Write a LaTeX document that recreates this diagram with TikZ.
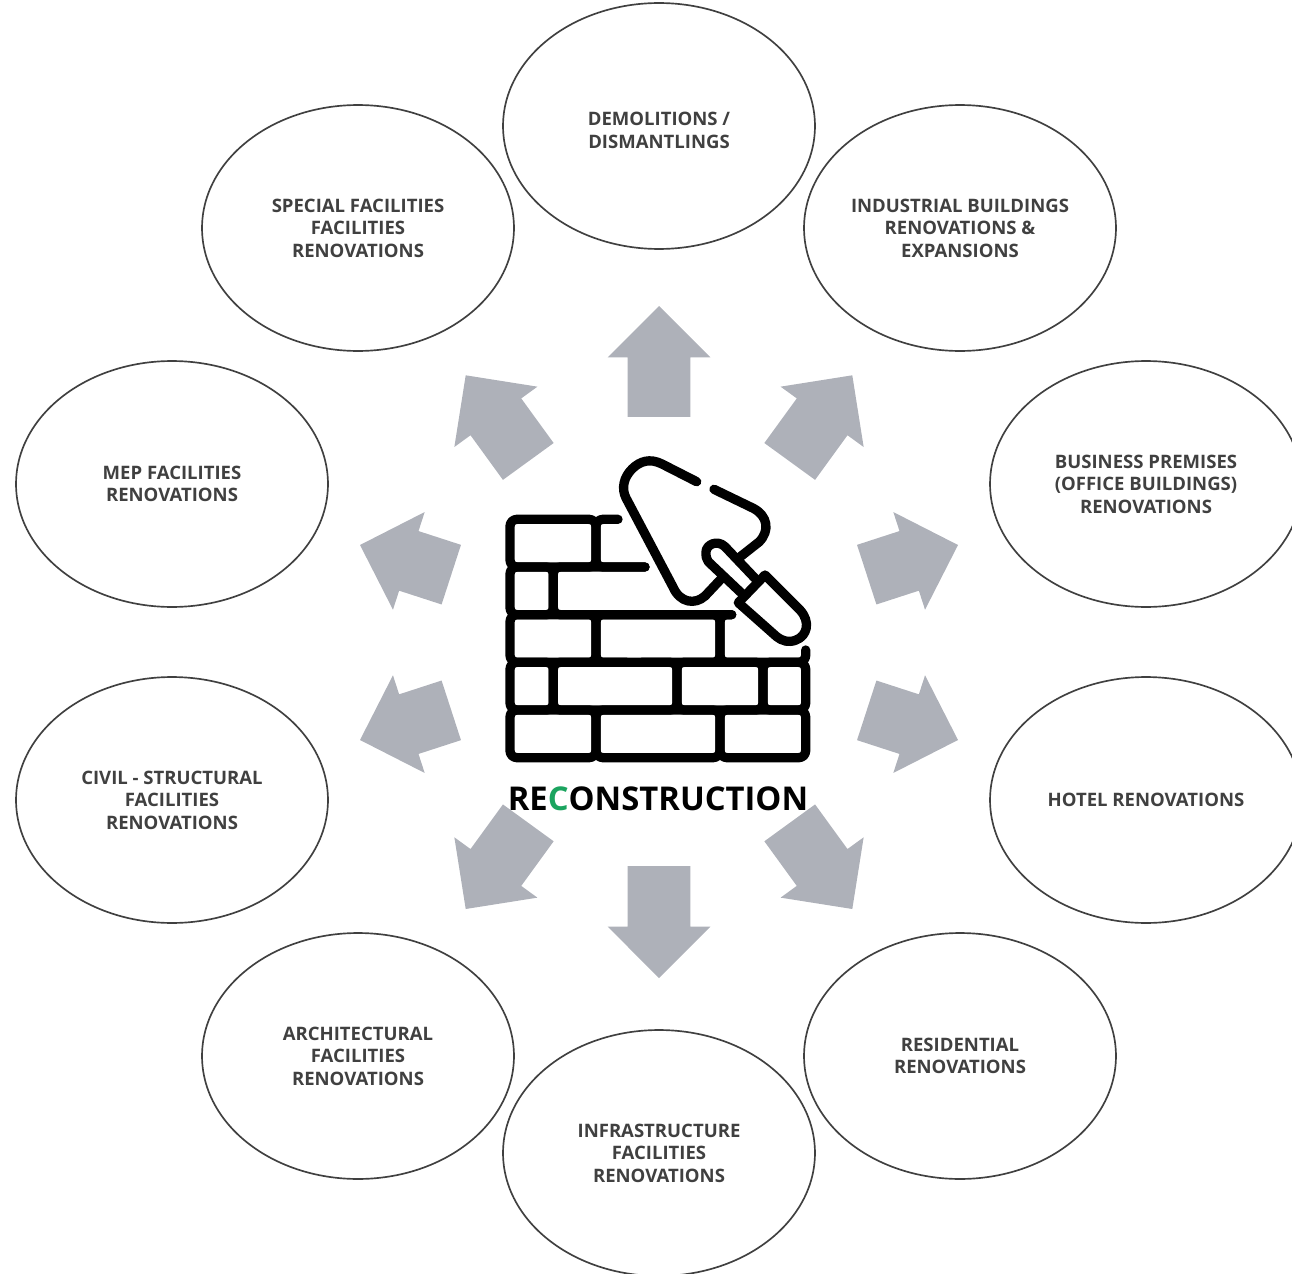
\documentclass[tikz,border=0pt]{standalone}
\usepackage{fontspec}
\setmainfont{Open Sans}
\usetikzlibrary{shapes.geometric,shapes.arrows}
\definecolor{bubbleink}{HTML}{404040}
\definecolor{arrowgray}{HTML}{AEB1B9}
\definecolor{recgreen}{HTML}{1BA45F}
\tikzset{
bubble/.style={ellipse,draw=bubbleink,line width=0.95pt,minimum width=6.24cm,minimum height=4.92cm,inner sep=0pt,outer sep=0pt},
bubbletext/.style={font=\fontsize{10.55}{12.8}\selectfont\bfseries,text=bubbleink,align=center,inner sep=0pt},
blockarrow/.style={single arrow,fill=arrowgray,minimum width=2.04cm,single arrow head extend=0.4cm,inner xsep=0pt,inner ysep=0.62cm,outer sep=0pt},
brick/.style={draw=black,line width=5.3pt,line cap=round,line join=round,rounded corners=4pt},
}

\begin{document}
\begin{tikzpicture}[x=0.02cm,y=-0.02cm]
\useasboundingbox (0,0) rectangle (1292,1274);

\foreach \nm/\x/\y/\ang/\len in {n/659/306/90/2.22,ne/852.3/375.3/54/2.13,e/958/545/18/1.92,se/958/740/-18/1.92,sse/852.3/909/-54/2.13,s/659/978/-90/2.24,ssw/465.7/909/-126/2.13,w/360/740/-162/1.92,nw/360/545/162/1.92,nnw/465.7/375.3/126/2.13}
  \node[blockarrow,rotate=\ang,anchor=tip,minimum height=\len cm] (arrow\nm) at (\x,\y) {};

\node[bubble] (demolitions) at (659,126) {};
\node[bubbletext] (demolitionstext) at (659,130.5) {DEMOLITIONS /\\DISMANTLINGS};
\node[bubble,bubbletext] (special) at (358,228) {SPECIAL FACILITIES\\FACILITIES\\RENOVATIONS};
\node[bubble,bubbletext] (industrial) at (960,228) {INDUSTRIAL BUILDINGS\\RENOVATIONS \&\\EXPANSIONS};
\node[bubble,bubbletext] (mep) at (172,484) {MEP FACILITIES\\RENOVATIONS};
\node[bubble,bubbletext] (business) at (1146,484) {BUSINESS PREMISES\\(OFFICE BUILDINGS)\\RENOVATIONS};
\node[bubble,bubbletext] (civil) at (172,800) {CIVIL - STRUCTURAL\\FACILITIES\\RENOVATIONS};
\node[bubble,bubbletext] (hotel) at (1146,800) {HOTEL RENOVATIONS};
\node[bubble,bubbletext] (architectural) at (358,1056) {ARCHITECTURAL\\FACILITIES\\RENOVATIONS};
\node[bubble,bubbletext] (residential) at (960,1056) {RESIDENTIAL\\RENOVATIONS};
\node[bubble,bubbletext] (infrastructure) at (659,1153) {INFRASTRUCTURE\\FACILITIES\\RENOVATIONS};

% wall
\foreach \xa/\ya/\xb/\yb in {510/519.3/596/567,510/567/553.3/614.7,510/614.7/596/662.3,510/662.3/553.3/710,553.3/662.3/677/710,677/662.3/763/710,763/662.3/805.7/710,510/710/596/757.7,596/710/720/757.7,720/710/805.7/757.7}
  \draw[brick] (\xa,\ya) rectangle (\xb,\yb);
\draw[brick] (618,519.3) -- (596,519.3) -- (596,567) -- (645,567);
\draw[brick] (645,567) -- (553.3,567) -- (553.3,614.7) -- (731.7,614.7);
\draw[brick] (626.7,662.3) -- (596,662.3) -- (596,614.7) -- (720,614.7) -- (720,662.3) -- (641.7,662.3);
\draw[brick] (731.7,614.7) -- (720,614.7) -- (720,662.3) -- (805.7,662.3) -- (805.7,650);

% trowel
\draw[brick,rounded corners=0pt] (696.7,481.7) -- (662,464) .. controls (650,458) and (640,461) .. (632,469) .. controls (624,477) and (621,488) .. (626,498) -- (673,587) .. controls (680,603) and (695,605) .. (705,596) -- (721.7,578.3);
\draw[brick,rounded corners=0pt] (714,489.3) -- (753.3,508.3) .. controls (768,516) and (770,531) .. (759,542) -- (738.3,558.3);
\draw[brick,rounded corners=0pt] (755,578.3) -- (725,546.7) .. controls (717,539) and (706,545) .. (706,552) .. controls (706,556) and (706,559) .. (708.3,561.7) -- (741.7,593.3);
\draw[brick,rounded corners=0pt] (738.3,602.7) -- (765,575) -- (800,610) .. controls (811,622) and (807,636) .. (796,640) .. controls (789,643) and (782,641) .. (776.7,636.7) -- cycle;

\node[inner sep=0pt,font=\fontsize{18.65}{22}\selectfont\bfseries] (title) at (658,799) {RE{\color{recgreen}C}ONSTRUCTION};
\end{tikzpicture}
\end{document}
